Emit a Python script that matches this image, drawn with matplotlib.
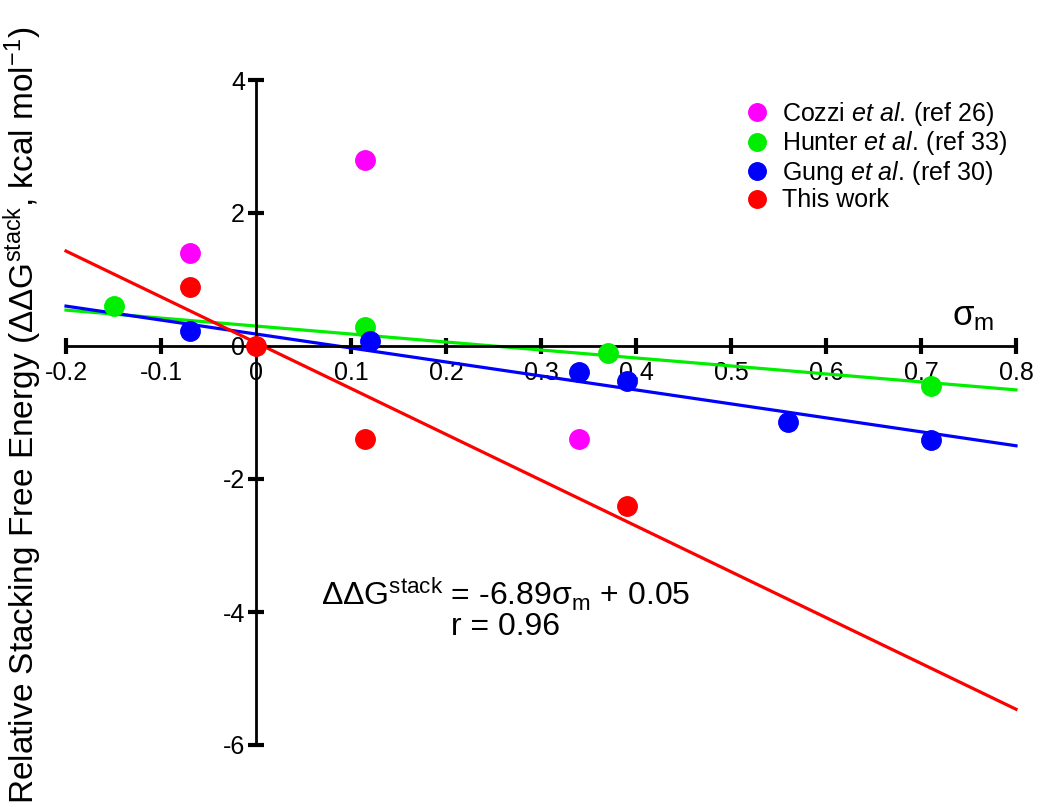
import numpy as np
import matplotlib.pyplot as plt

plt.rcParams['font.family'] = ['Liberation Sans', 'DejaVu Sans']
plt.rcParams['mathtext.fontset'] = 'custom'
plt.rcParams['mathtext.rm'] = 'Liberation Sans'
plt.rcParams['mathtext.it'] = 'Liberation Sans:italic'
plt.rcParams['mathtext.bf'] = 'Liberation Sans:bold'
plt.rcParams['axes.unicode_minus'] = False

# Data (sigma_m, relative stacking free energy)
cozzi_x = [-0.07, 0.115, 0.34]
cozzi_y = [1.40, 2.80, -1.40]

hunter_x = [-0.15, 0.115, 0.37, 0.71]
hunter_y = [0.60, 0.28, -0.10, -0.60]

gung_x = [-0.07, 0.12, 0.34, 0.39, 0.56, 0.71]
gung_y = [0.22, 0.08, -0.39, -0.52, -1.14, -1.41]

this_x = [-0.07, 0.0, 0.115, 0.39]
this_y = [0.89, 0.0, -1.40, -2.40]

# fitted lines: slope, intercept
fit_hunter = (-1.2, 0.30)
fit_gung = (-2.1, 0.18)
fit_this = (-6.89, 0.05)

xticks = [-0.2, -0.1, 0, 0.1, 0.2, 0.3, 0.4, 0.5, 0.6, 0.7, 0.8]
yticks = [-6, -4, -2, 0, 2, 4]

fig = plt.figure(figsize=(10.5, 8.07), dpi=100)
ax = fig.add_axes([66 / 1050, 62 / 807, 950 / 1050, 665 / 807])

xs = np.array([-0.2, 0.8])
for (m, b), c in [(fit_hunter, '#00ee00'), (fit_gung, '#0000ff'), (fit_this, '#ff0000')]:
    ax.plot(xs, m * xs + b, color=c, lw=2.3, zorder=2, clip_on=False)

ms = 14
ax.plot(cozzi_x, cozzi_y, 'o', color='#ff00ff', ms=ms, zorder=3, clip_on=False,
        label=r'Cozzi $\mathit{et}$ $\mathit{al.}\,$(ref 26)')
ax.plot(hunter_x, hunter_y, 'o', color='#00ee00', ms=ms, zorder=3, clip_on=False,
        label=r'Hunter $\mathit{et}$ $\mathit{al.}\,$(ref 33)')
ax.plot(gung_x, gung_y, 'o', color='#0000ff', ms=ms, zorder=3, clip_on=False,
        label=r'Gung $\mathit{et}$ $\mathit{al.}\,$(ref 30)')
ax.plot(this_x, this_y, 'o', color='#ff0000', ms=ms, zorder=3, clip_on=False,
        label='This work')

ax.set_xlim(-0.2, 0.8)
ax.set_ylim(-6, 4)

for s in ['top', 'right']:
    ax.spines[s].set_visible(False)
ax.spines['left'].set_position(('data', 0))
ax.spines['bottom'].set_position(('data', 0))
ax.spines['left'].set_linewidth(2)
ax.spines['bottom'].set_linewidth(2)

ax.set_xticks(xticks)
ax.set_xticklabels([f'{t:g}' for t in xticks])
ax.set_yticks(yticks)
ax.tick_params(axis='both', direction='inout', length=12, width=3, labelsize=18)
ax.tick_params(axis='x', pad=5)
ax.tick_params(axis='y', pad=2)

ax.text(0.733, 0.2, r'σ$_{\mathrm{m}}$', fontsize=25, ha='left', va='bottom')

ax.text(0.263, -3.95, 'ΔΔG$^{\\mathrm{stack}}$ = -6.89σ$_{\\mathrm{m}}$ + 0.05\nr = 0.96',
        fontsize=23, ha='center', va='center', multialignment='center', linespacing=0.95)

fig.text(0.022, 0.485, r'Relative Stacking Free Energy (ΔΔG$^{\mathrm{stack}}$, kcal mol$^{-1}$)',
         rotation=90, fontsize=24, ha='center', va='center')

ax.legend(loc='upper left', bbox_to_anchor=(0.69, 0.985), frameon=False,
          fontsize=18, handletextpad=0.0, labelspacing=0.06, markerscale=0.9,
          borderaxespad=0)

fig.savefig('out.png', dpi=100)
